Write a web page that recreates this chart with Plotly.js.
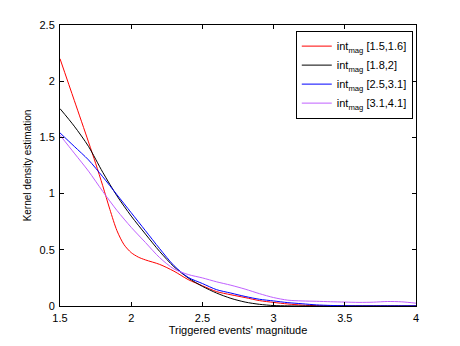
<!DOCTYPE html>
<html>
<head>
<meta charset="utf-8">
<script src="https://cdn.plot.ly/plotly-3.0.1.min.js"></script>
<style>html,body{margin:0;padding:0;background:#fff;}#chart{width:460px;height:346px;}</style>
</head>
<body>
<div id="chart"></div>
<script>
var xGrid = [1.5,1.6,1.7,1.8,1.9,2.0,2.1,2.2,2.3,2.4,2.5,2.6,2.7,2.8,2.9,3.0,3.1,3.2,3.3,3.4,3.5,3.6,3.7,3.8,3.9,4.0];
var xRed   = [1.5,1.6,1.7,1.75,1.8,1.85,1.9,1.95,2.0,2.05,2.1,2.2,2.3,2.4,2.5,2.6,2.7,2.8,2.9,3.0,3.1,3.2,3.3,3.4,3.6,3.8,4.0];
var red    = [2.20,1.83,1.46,1.27,1.07,0.86,0.67,0.545,0.475,0.435,0.41,0.37,0.31,0.235,0.18,0.128,0.10,0.075,0.048,0.032,0.018,0.008,0.003,0.001,0,0,0];
var black  = [1.756,1.60,1.42,1.19,0.98,0.80,0.64,0.485,0.35,0.25,0.175,0.115,0.068,0.035,0.015,0.004,0.001,0,0,0,0,0,0,0,0,0];
var blue   = [1.54,1.42,1.30,1.15,0.99,0.83,0.67,0.51,0.36,0.255,0.20,0.145,0.115,0.085,0.06,0.045,0.03,0.02,0.01,0.005,0.002,0.001,0.001,0.001,0.001,0.001];
var purple = [1.52,1.36,1.20,1.02,0.85,0.70,0.565,0.43,0.33,0.28,0.25,0.215,0.185,0.15,0.11,0.075,0.052,0.045,0.042,0.038,0.035,0.032,0.034,0.04,0.037,0.025];
var names = ['int<sub>mag</sub> [1.5,1.6]','int<sub>mag</sub> [1.8,2]','int<sub>mag</sub> [2.5,3.1]','int<sub>mag</sub> [3.1,4.1]'];
var colors = ['#ff0000','#000000','#0000ff','#c060ff'];
var series = [red, black, blue, purple];
var xs = [xRed, xGrid, xGrid, xGrid];
var xTicks = [1.5,2,2.5,3,3.5,4];
var xTickText = ['1.5','2','2.5','3','3.5','4'];
var yTicks = [0,0.5,1,1.5,2,2.5];
var yTickText = ['0','0.5','1','1.5','2','2.5'];

var traces = series.map(function(s,i){
  return {x:xs[i], y:s, type:'scatter', mode:'lines', name:names[i],
          line:{color:colors[i], width:1, shape:'spline', smoothing:0.8}};
});
var axBase = {showline:true, linecolor:'#000', linewidth:1, mirror:'ticks', ticks:'inside',
  ticklen:4, tickcolor:'#000', showgrid:false, zeroline:false,
  tickfont:{family:'Liberation Sans, Arial, sans-serif', size:11, color:'#000'}};
var layout = {
  width:460, height:346,
  margin:{l:60, r:44, t:25, b:40},
  paper_bgcolor:'#fff', plot_bgcolor:'#fff',
  font:{family:'Liberation Sans, Arial, sans-serif', size:11, color:'#000'},
  xaxis:Object.assign({}, axBase, {range:[1.5,4], tickvals:xTicks, ticktext:xTickText,
    ticklabelstandoff:2,
    title:{text:"Triggered events' magnitude", font:{size:11}, standoff:2}}),
  yaxis:Object.assign({}, axBase, {range:[0,2.5], tickvals:yTicks, ticktext:yTickText,
    ticklabelstandoff:2,
    title:{text:'Kernel density estimation', font:{size:10}, standoff:6}}),
  showlegend:true,
  legend:{x:0.991, y:0.98, xanchor:'right', yanchor:'top', bgcolor:'#fff',
    bordercolor:'#000', borderwidth:1, font:{size:11}, itemwidth:30, tracegroupgap:0}
};
Plotly.newPlot('chart', traces, layout, {displayModeBar:false, staticPlot:true});
</script>
</body>
</html>
